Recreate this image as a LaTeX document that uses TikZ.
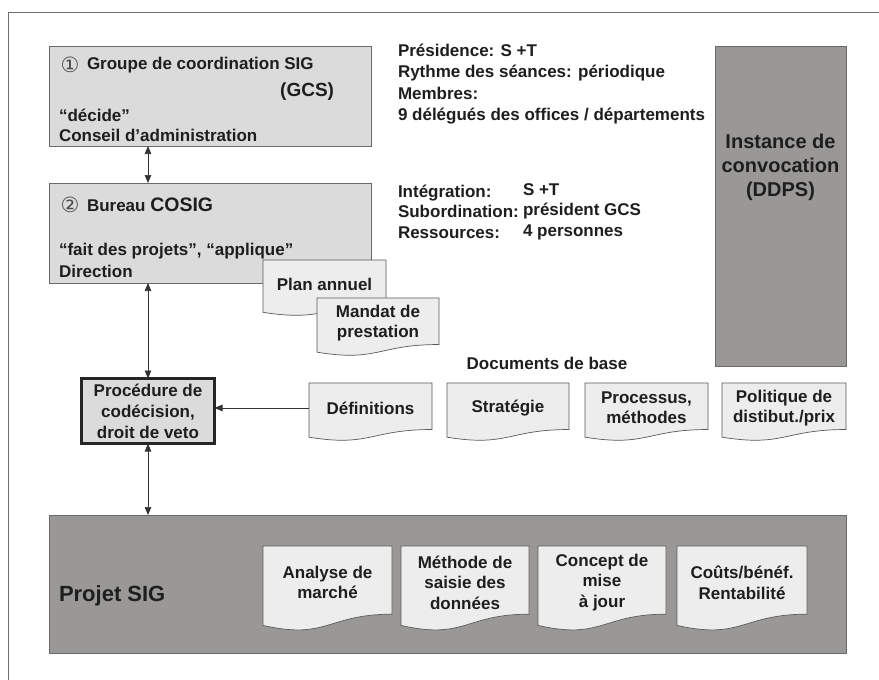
\documentclass[tikz,border=0pt]{standalone}
\usepackage{fontspec}
\setmainfont{Liberation Sans}
\newfontfamily\circfont{DejaVu Sans}
\usetikzlibrary{arrows.meta,calc}
\definecolor{lightfill}{HTML}{DCDBDB}
\definecolor{darkfill}{HTML}{9A9897}
\definecolor{docfill}{HTML}{EDEDED}
\definecolor{boxline}{HTML}{6A6A6A}
\definecolor{docborder}{HTML}{5A5A5A}
\definecolor{textcol}{HTML}{1E1E1E}
\definecolor{arrowcol}{HTML}{333333}
\definecolor{framecol}{HTML}{707070}
\newcommand\docu[6]{%
  \pgfmathsetmacro\dxa{#2+#4}%
  \pgfmathsetmacro\dya{#3+0.802*#5}%
  \pgfmathsetmacro\dyb{#3+1.107*#5}%
  \pgfmathsetmacro\dyc{#3+0.934*#5}%
  \pgfmathsetmacro\dxm{#2+0.5*#4}%
  \filldraw[docline] (#2,#3) -- (\dxa,#3) -- (\dxa,\dya) .. controls (\dxm,\dya) and (\dxm,\dyb) .. (#2,\dyc) -- cycle;
  \node[doctext, minimum width=#4, minimum height=0.86*#5] (#1) at (#2,#3) {#6};
}
\begin{document}
\begin{tikzpicture}[x=1pt,y=-1pt,
  lightbox/.style={draw=boxline, fill=lightfill, line width=0.8pt, inner sep=0pt, outer sep=0pt, anchor=north west},
  darkbox/.style={draw=boxline, fill=darkfill, line width=0.8pt, inner sep=0pt, outer sep=0pt, anchor=north west},
  txt/.style={inner sep=0pt, outer sep=0pt, text=textcol, anchor=west, align=left, font=\bfseries\fontsize{17}{21}\selectfont},
  circnum/.style={inner sep=0pt, outer sep=0pt, text=textcol!80, font=\circfont\fontsize{21}{21}\selectfont},
  docline/.style={draw=docborder, fill=docfill, line width=0.7pt},
  doctext/.style={inner sep=0pt, outer sep=0pt, anchor=north west, align=center, text=textcol, font=\bfseries\fontsize{17}{20.5}\selectfont},
  biarrow/.style={{Triangle[length=8pt,width=6.5pt]}-{Triangle[length=8pt,width=6.5pt]}, draw=arrowcol, line width=0.7pt},
  onearrow/.style={-{Triangle[length=8pt,width=6.5pt]}, draw=arrowcol, line width=0.7pt}]
\useasboundingbox (0,0) rectangle (879,680);
\fill[white] (0,0) rectangle (879,680);
% frame
\draw[framecol, line width=0.9pt] (879,12) -- (8,12) -- (8,680);

% GCS box
\node[lightbox, minimum width=322, minimum height=100] (gcs) at (49,46) {};
\node[circnum] (n1) at (70,65) {①};
\node[txt] (gcs1) at (87,65) {Groupe de coordination SIG};
\node[txt, anchor=east, font=\bfseries\fontsize{19}{21}\selectfont] (gcs2) at (334,92) {(GCS)};
\node[txt] (gcs3) at (59,115) {“décide”};
\node[txt] (gcs4) at (59,135) {Conseil d’administration};

% COSIG box
\node[lightbox, minimum width=322, minimum height=100] (cosig) at (49,183) {};
\node[circnum] (n2) at (70,205) {②};
\node[txt] (cos1) at (87,205) {Bureau {\fontsize{19.5}{21}\selectfont COSIG}};
\node[txt] (cos2) at (59,251) {“fait des projets”, “applique”};
\node[txt] (cos3) at (59,271) {Direction};

% right texts
\node[txt, font=\bfseries\fontsize{17}{21.3}\selectfont] (pres) at (398,84) {Présidence: S +T\\Rythme des séances: périodique\\Membres:\\9 délégués des offices / départements};
\node[txt, font=\bfseries\fontsize{17}{20.5}\selectfont] (integ) at (398,211.5) {Intégration:\\Subordination:\\Ressources:};
\node[txt, font=\bfseries\fontsize{17}{20.5}\selectfont] (integv) at (523,211.5) {S +T\\président GCS\\4 personnes};

% DDPS box
\node[darkbox, minimum width=131, minimum height=320] (ddps) at (715,46) {};
\node[txt, anchor=center, align=center, font=\bfseries\fontsize{20}{24}\selectfont] (ddpst) at (780.5,167) {Instance de\\convocation\\(DDPS)};

% documents attached to COSIG
\docu{plan}{263}{260}{123}{56}{Plan annuel}
\docu{mandat}{317}{298}{122}{58}{Mandat de\\prestation}

% Procedure box
\node[draw=black!85, line width=3pt, fill=lightfill, minimum width=133, minimum height=65, inner sep=0pt, outer sep=0pt, align=center, text=textcol, font=\bfseries\fontsize{17}{21}\selectfont] (proc) at (148,411) {Procédure de\\codécision,\\droit de veto};

% Documents de base
\node[txt, anchor=center] (docbase) at (547,363) {Documents de base};
\docu{def}{309}{383}{123}{58}{Définitions}
\docu{strat}{447}{383}{122}{58}{Stratégie}
\docu{procm}{585}{383}{123}{58}{Processus,\\méthodes}
\docu{polit}{722}{383}{124}{58}{Politique de\\distibut./prix}

% Projet SIG box
\node[darkbox, minimum width=797, minimum height=138] (projet) at (49,515) {};
\node[txt, font=\bfseries\fontsize{22}{24}\selectfont] (projt) at (59,596) {Projet SIG};
\docu{ana}{263}{546}{129}{85}{Analyse de\\marché}
\docu{meth}{401}{546}{128}{85}{Méthode de\\saisie des\\données}
\docu{conc}{538}{546}{128}{85}{Concept de\\mise\\à jour}
\docu{couts}{677}{546}{130}{85}{Coûts/bénéf.\\Rentabilité}

% connectors
\draw[biarrow] (proc.north |- gcs.south) -- (proc.north |- cosig.north);
\draw[biarrow] (proc.north |- cosig.south) -- (proc.north);
\draw[biarrow] (proc.south) -- (proc.south |- projet.north);
\draw[onearrow] (def.west) -- (def.west -| proc.east);
\end{tikzpicture}
\end{document}
